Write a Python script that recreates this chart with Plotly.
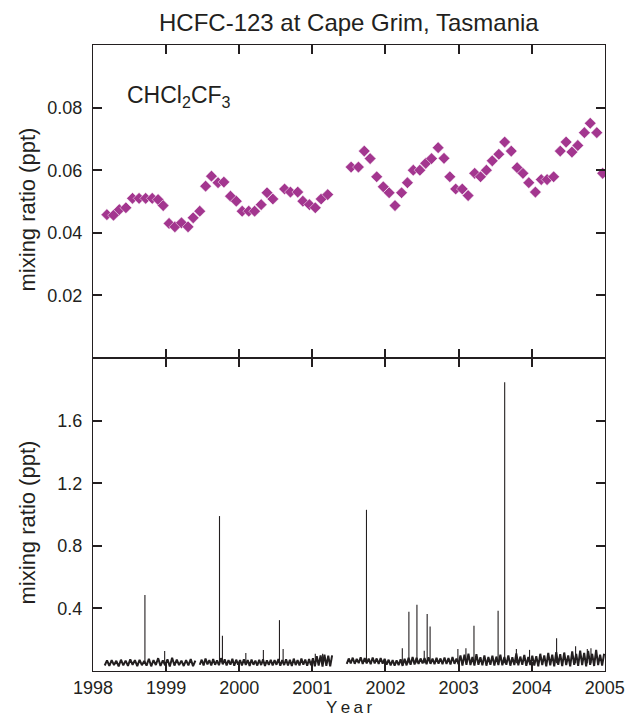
import numpy as np
import plotly.graph_objects as go

title_text = "HCFC-123 at Cape Grim, Tasmania"
species_label = "CHCl<sub>2</sub>CF<sub>3</sub>"
y_title = "mixing ratio (ppt)"
x_title = "Y\u2009e\u2009a\u2009r"

# --- upper panel: monthly mean mixing ratios (ppt)
flask_year = [1998.19, 1998.28, 1998.36, 1998.45, 1998.54, 1998.63, 1998.72, 1998.81, 1998.89, 1998.96,
              1999.04, 1999.12, 1999.21, 1999.30, 1999.37, 1999.46, 1999.54, 1999.62, 1999.71, 1999.79, 1999.88, 1999.96,
              2000.04, 2000.13, 2000.21, 2000.30, 2000.38, 2000.46, 2000.62, 2000.70, 2000.80, 2000.87, 2000.96,
              2001.04, 2001.12, 2001.21, 2001.53, 2001.63, 2001.71, 2001.79, 2001.88, 2001.97,
              2002.05, 2002.13, 2002.22, 2002.30, 2002.38, 2002.47, 2002.55, 2002.63, 2002.72, 2002.80, 2002.88, 2002.96,
              2003.05, 2003.13, 2003.22, 2003.30, 2003.38, 2003.46, 2003.55, 2003.63, 2003.72, 2003.80, 2003.88, 2003.96,
              2004.05, 2004.13, 2004.21, 2004.30, 2004.39, 2004.47, 2004.55, 2004.63, 2004.72, 2004.80, 2004.89, 2004.97]
flask_ppt = [0.0458, 0.0456, 0.0474, 0.048, 0.051, 0.051, 0.051, 0.051, 0.0506, 0.0487,
             0.043, 0.0419, 0.0432, 0.0419, 0.0448, 0.0469, 0.0549, 0.0581, 0.056, 0.0562, 0.0517, 0.0501,
             0.0469, 0.0469, 0.0469, 0.049, 0.0528, 0.0508, 0.054, 0.053, 0.053, 0.0501, 0.049,
             0.048, 0.0508, 0.0522, 0.061, 0.061, 0.0661, 0.0637, 0.0579, 0.0547,
             0.0528, 0.0487, 0.0528, 0.056, 0.06, 0.06, 0.0622, 0.0637, 0.0672, 0.0638, 0.0579, 0.054,
             0.054, 0.0519, 0.059, 0.0579, 0.06, 0.063, 0.0651, 0.069, 0.0661, 0.0608, 0.059, 0.056,
             0.053, 0.057, 0.057, 0.0579, 0.0661, 0.069, 0.0658, 0.0679, 0.072, 0.075, 0.072, 0.059]

# --- lower panel: in situ background record, three continuous segments
segA_start, segA_end = 1998.16, 1999.40
segA_ppt = [0.035, 0.068, 0.032, 0.07, 0.038, 0.065, 0.03, 0.072, 0.036, 0.066, 0.033, 0.074, 0.04, 0.069,
            0.031, 0.071, 0.037, 0.064, 0.034, 0.078, 0.03, 0.07, 0.038, 0.082, 0.033, 0.068, 0.036, 0.075,
            0.029, 0.085, 0.035, 0.072, 0.038, 0.066, 0.032, 0.07, 0.036, 0.076, 0.031, 0.067]
segB_start, segB_end = 1999.46, 2001.27
segB_ppt = [0.04, 0.072, 0.036, 0.08, 0.042, 0.07, 0.035, 0.076, 0.04, 0.068, 0.037, 0.082, 0.043, 0.074,
            0.036, 0.07, 0.04, 0.078, 0.034, 0.072, 0.041, 0.069, 0.036, 0.075, 0.039, 0.07, 0.033, 0.073,
            0.04, 0.066, 0.035, 0.071, 0.038, 0.074, 0.033, 0.068, 0.039, 0.072, 0.035, 0.069, 0.04, 0.077,
            0.034, 0.07, 0.038, 0.074, 0.036, 0.071, 0.032, 0.079, 0.038, 0.07, 0.035, 0.08, 0.04, 0.073,
            0.034, 0.076, 0.037, 0.082, 0.03, 0.095, 0.035, 0.1, 0.028, 0.105, 0.033, 0.098, 0.03, 0.1]
segC_start, segC_end = 2001.47, 2004.99
segC_ppt = [0.045, 0.08, 0.048, 0.085, 0.046, 0.078, 0.05, 0.088, 0.045, 0.082, 0.049, 0.079, 0.044, 0.086,
            0.048, 0.08, 0.045, 0.083, 0.047, 0.078,
            0.04, 0.072, 0.036, 0.07, 0.034, 0.068, 0.038, 0.074, 0.033, 0.078, 0.036, 0.085, 0.04, 0.09, 0.042,
            0.085, 0.045, 0.08, 0.048, 0.082, 0.044, 0.088, 0.046, 0.079, 0.043, 0.084, 0.047, 0.08, 0.044,
            0.086, 0.045, 0.082, 0.042, 0.09, 0.046, 0.08, 0.043,
            0.1, 0.035, 0.105, 0.04, 0.11, 0.038, 0.09, 0.035, 0.108, 0.04, 0.088, 0.036, 0.1, 0.034, 0.09,
            0.04, 0.098, 0.035, 0.092, 0.038, 0.105, 0.036, 0.09, 0.04, 0.1, 0.034, 0.088, 0.038, 0.112, 0.036,
            0.092, 0.04, 0.102, 0.033, 0.09, 0.038, 0.098,
            0.035, 0.095, 0.03, 0.11, 0.038, 0.1, 0.03, 0.115, 0.036, 0.105, 0.03, 0.12, 0.04, 0.108, 0.032,
            0.118, 0.038, 0.1, 0.03, 0.125, 0.04, 0.11, 0.033, 0.13, 0.038, 0.115, 0.03, 0.128, 0.04, 0.11,
            0.032, 0.135, 0.038, 0.105, 0.035, 0.11]

# pollution events (spikes): time, peak value, rising from the background level
spike_year = [1998.71, 1998.98, 1999.73, 1999.77, 2000.09, 2000.33, 2000.55, 2000.60, 2001.04, 2001.14,
              2001.74, 2002.23, 2002.32, 2002.43, 2002.53, 2002.57, 2002.61, 2002.99, 2003.10, 2003.21,
              2003.54, 2003.63, 2003.79, 2003.97, 2004.34, 2004.60, 2004.76, 2004.81]
spike_ppt = [0.485, 0.127, 0.99, 0.225, 0.115, 0.134, 0.325, 0.14, 0.11, 0.11,
             1.03, 0.145, 0.378, 0.423, 0.13, 0.364, 0.285, 0.14, 0.145, 0.289,
             0.385, 1.845, 0.14, 0.135, 0.209, 0.158, 0.14, 0.145]
spike_base_ppt = 0.05

x_ticks = [1998, 1999, 2000, 2001, 2002, 2003, 2004, 2005]
top_ticks = [0.02, 0.04, 0.06, 0.08]
bot_ticks = [0.4, 0.8, 1.2, 1.6]

ink = "#231f20"
purple = "#a3368f"
font_family = "Liberation Sans, Arial, sans-serif"

# assemble background series (gaps between segments)
bg_t, bg_v = [], []
for s, e, vals in [(segA_start, segA_end, segA_ppt), (segB_start, segB_end, segB_ppt), (segC_start, segC_end, segC_ppt)]:
    bg_t += list(np.linspace(s, e, len(vals))) + [None]
    bg_v += list(vals) + [None]

# spikes as vertical strokes
sp_t, sp_v = [], []
for sy, sp in zip(spike_year, spike_ppt):
    sp_t += [sy, sy, None]
    sp_v += [spike_base_ppt, sp, None]

fig = go.Figure()
fig.add_trace(go.Scatter(x=flask_year, y=flask_ppt, mode="markers", xaxis="x", yaxis="y",
                         marker=dict(symbol="diamond", size=9, color=purple,
                                     line=dict(color="white", width=0.5)),
                         showlegend=False))
fig.add_trace(go.Scatter(x=bg_t, y=bg_v, mode="lines", xaxis="x2", yaxis="y2",
                         line=dict(color=ink, width=2), connectgaps=False, showlegend=False))
fig.add_trace(go.Scatter(x=sp_t, y=sp_v, mode="lines", xaxis="x2", yaxis="y2",
                         line=dict(color=ink, width=1.1), connectgaps=False, showlegend=False))

axis_common = dict(showline=True, linecolor=ink, linewidth=1.2, mirror="allticks", ticks="inside",
                   ticklen=9, tickwidth=2, tickcolor=ink, showgrid=False, zeroline=False, automargin=False,
                   ticklabeloverflow="allow",
                   tickfont=dict(family=font_family, size=18, color=ink))

fig.update_layout(
    width=626, height=717,
    margin=dict(l=93, r=21, t=45, b=46),
    paper_bgcolor="white", plot_bgcolor="white",
    font=dict(family=font_family, color=ink),
    xaxis=dict(domain=[0, 1], range=[1998, 2005.002], tickvals=x_ticks, showticklabels=False,
               anchor="y", **axis_common),
    yaxis=dict(domain=[0.5, 1], range=[0, 0.1], tickvals=top_ticks, tickformat=".2f",
               ticklabelstandoff=6, anchor="x", **axis_common),
    xaxis2=dict(domain=[0, 1], range=[1998, 2005.002], tickvals=x_ticks, ticktext=[str(v) for v in x_ticks],
                anchor="y2", **axis_common),
    yaxis2=dict(domain=[0, 0.5], range=[0, 2.0], tickvals=bot_ticks, tickformat=".1f",
                ticklabelstandoff=6, anchor="x2", **axis_common),
    annotations=[
        dict(text=title_text, x=0.5, y=1, xref="paper", yref="paper", xanchor="center", yanchor="bottom",
             yshift=7, showarrow=False, font=dict(size=24, color=ink, family=font_family)),
        dict(text=species_label, x=0.062, y=0.918, xref="paper", yref="paper", xanchor="left", yanchor="middle",
             showarrow=False, font=dict(size=23, color=ink, family=font_family)),
        dict(text=x_title, x=0.5, y=-0.058, xref="paper", yref="paper", xanchor="center", yanchor="middle",
             showarrow=False, font=dict(size=17, color=ink, family=font_family)),
        dict(text=y_title, x=-0.128, y=0.738, xref="paper", yref="paper", xanchor="center", yanchor="middle",
             textangle=-90, showarrow=False, font=dict(size=22, color=ink, family=font_family)),
        dict(text=y_title, x=-0.128, y=0.238, xref="paper", yref="paper", xanchor="center", yanchor="middle",
             textangle=-90, showarrow=False, font=dict(size=22, color=ink, family=font_family)),
    ],
)

fig.write_html("out.html")
